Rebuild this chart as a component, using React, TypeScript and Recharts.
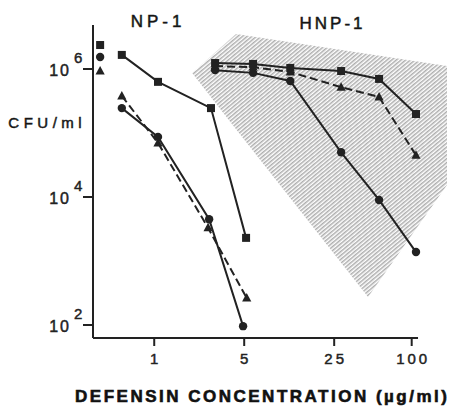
import { ComposedChart, Line, Area, XAxis, YAxis, ReferenceLine } from 'recharts';

const FONT = '"Liberation Sans", Arial, Helvetica, sans-serif';
const INK = '#222';

// doses in µg/ml, counts in CFU/ml
const controlDose = 0.38;
const controlSquare = 2.37e6;
const controlCircle = 1.54e6;
const controlTriangle = 9.3e5;

const npSquareDose = [0.56, 1.07, 2.76, 5.17];
const npSquares = [1.66e6, 6.3e5, 2.45e5, 2.3e3];
const npCircleDose = [0.56, 1.07, 2.67, 4.9];
const npCircles = [2.45e5, 8.7e4, 4.5e3, 96];
const npTriangleDose = [0.56, 1.07, 2.62, 5.23];
const npTriangles = [3.8e5, 7.0e4, 3.3e3, 264];

const hnpDose = [2.97, 5.86, 11.4, 28.3, 55.8, 108];
const hnpSquares = [1.24e6, 1.2e6, 1.04e6, 9.3e5, 7.0e5, 1.98e5];
const hnpCircles = [9.6e5, 8.7e5, 6.5e5, 5.0e4, 9.0e3, 1.38e3];
const hnpTriangles = [1.11e6, 1.07e6, 9.0e5, 5.2e5, 3.65e5, 4.5e4];

// hatched HNP-1 region outline
const bandDose = [1.97, 4.32, 45.8, 188];
const bandLow = [8.7e5, 1.15e5, 274, 1.54e4];
const bandHigh = [8.7e5, 3.52e6, 1.71e6, 1.11e6];

const xTicks = [1, 5, 25, 100];
const yTicks = [100, 1e4, 1e6];
const X_DOMAIN: [number, number] = [0.3345, 202];
const X_AXIS_END = 112;
const Y_DOMAIN: [number, number] = [62.7, 4.87e6];

const pts = (xs: number[], ys: number[]) => xs.map((x, i) => ({ x, y: ys[i] }));
const band = bandDose.map((x, i) => ({ x, band: [bandLow[i], bandHigh[i]] }));

const Square = (p: any) => (
  <rect key={`sq-${p.index}`} x={p.cx - 4} y={p.cy - 4} width={8} height={8} fill={INK} />
);
const Dot = (p: any) => <circle key={`ci-${p.index}`} cx={p.cx} cy={p.cy} r={4.2} fill={INK} />;
const Tri = (p: any) => (
  <polygon
    key={`tr-${p.index}`}
    points={`${p.cx},${p.cy - 5} ${p.cx + 4.6},${p.cy + 3.5} ${p.cx - 4.6},${p.cy + 3.5}`}
    fill={INK}
  />
);

const YTick = ({ y, payload }: any) => {
  const exp = Math.round(Math.log10(payload.value));
  return (
    <g fontFamily={FONT} fill={INK} stroke={INK} strokeWidth={0.45}>
      <text x={71} y={y + 6.5} textAnchor="end" fontSize={16} style={{ letterSpacing: 2 }}>
        10
      </text>
      <text x={74} y={y - 6} fontSize={15}>
        {exp}
      </text>
    </g>
  );
};

const XTick = ({ x, payload }: any) => (
  <text
    x={x + 1.5}
    y={363.5}
    textAnchor="middle"
    fontFamily={FONT}
    fontSize={15}
    fill={INK}
    stroke={INK}
    strokeWidth={0.45}
    style={{ letterSpacing: 3 }}
  >
    {payload.value}
  </text>
);

const Label = ({ cx, cy, size, spacing, bold, children }: any) => (
  <div
    style={{
      position: 'absolute',
      left: cx,
      top: cy,
      transform: 'translate(-50%, -50%)',
      fontFamily: FONT,
      fontSize: size,
      lineHeight: 1,
      letterSpacing: spacing,
      fontWeight: bold ? 700 : 400,
      color: '#111',
      WebkitTextStroke: bold ? `0.6px #111` : `0.5px ${INK}`,
      whiteSpace: 'nowrap',
      paddingLeft: spacing,
    }}
  >
    {children}
  </div>
);

export default function App() {
  return (
    <div style={{ position: 'absolute', left: 0, top: 0, width: 451, height: 407, background: '#fff' }}>
      <ComposedChart width={451} height={407} margin={{ top: 25, right: 0, bottom: 0, left: 0 }}>
        <defs>
          <pattern id="hatch" patternUnits="userSpaceOnUse" width={3} height={3} patternTransform="rotate(50)">
            <line x1={0.8} y1={0} x2={0.8} y2={3} stroke="#9a9a9a" strokeWidth={1.2} />
          </pattern>
        </defs>
        <XAxis
          dataKey="x"
          type="number"
          scale="log"
          domain={X_DOMAIN}
          allowDataOverflow
          ticks={xTicks}
          axisLine={false}
          tickLine={{ stroke: INK, strokeWidth: 2 }}
          tickSize={8}
          height={69}
          tick={<XTick />}
        />
        <YAxis
          type="number"
          scale="log"
          domain={Y_DOMAIN}
          allowDataOverflow
          ticks={yTicks}
          width={93}
          axisLine={{ stroke: INK, strokeWidth: 2 }}
          tickLine={{ stroke: INK, strokeWidth: 2 }}
          tickSize={10}
          tick={<YTick />}
        />
        <Area
          data={band}
          dataKey="band"
          type="linear"
          stroke="none"
          fill="url(#hatch)"
          fillOpacity={1}
          isAnimationActive={false}
        />
        <ReferenceLine
          segment={[
            { x: X_DOMAIN[0], y: Y_DOMAIN[0] },
            { x: X_AXIS_END, y: Y_DOMAIN[0] },
          ]}
          stroke={INK}
          strokeWidth={2}
        />

        <Line data={pts(npSquareDose, npSquares)} dataKey="y" stroke={INK} strokeWidth={2} dot={Square} isAnimationActive={false} />
        <Line data={pts(npCircleDose, npCircles)} dataKey="y" stroke={INK} strokeWidth={2} dot={Dot} isAnimationActive={false} />
        <Line data={pts(npTriangleDose, npTriangles)} dataKey="y" stroke={INK} strokeWidth={2} strokeDasharray="8 4" dot={Tri} isAnimationActive={false} />

        <Line data={pts(hnpDose, hnpSquares)} dataKey="y" stroke={INK} strokeWidth={2} dot={Square} isAnimationActive={false} />
        <Line data={pts(hnpDose, hnpCircles)} dataKey="y" stroke={INK} strokeWidth={2} dot={Dot} isAnimationActive={false} />
        <Line data={pts(hnpDose, hnpTriangles)} dataKey="y" stroke={INK} strokeWidth={2} strokeDasharray="8 4" dot={Tri} isAnimationActive={false} />

        <Line data={[{ x: controlDose, y: controlSquare }]} dataKey="y" stroke="none" dot={Square} isAnimationActive={false} />
        <Line data={[{ x: controlDose, y: controlCircle }]} dataKey="y" stroke="none" dot={Dot} isAnimationActive={false} />
        <Line data={[{ x: controlDose, y: controlTriangle }]} dataKey="y" stroke="none" dot={Tri} isAnimationActive={false} />
      </ComposedChart>

      <Label cx={156} cy={21} size={17} spacing={4}>NP-1</Label>
      <Label cx={331} cy={23} size={17} spacing={3}>HNP-1</Label>
      <Label cx={45} cy={122} size={15} spacing={4.5}>CFU/ml</Label>
      <Label cx={261} cy={396} size={17} spacing={2.5} bold>
        DEFENSIN CONCENTRATION (µg/ml)
      </Label>
    </div>
  );
}
